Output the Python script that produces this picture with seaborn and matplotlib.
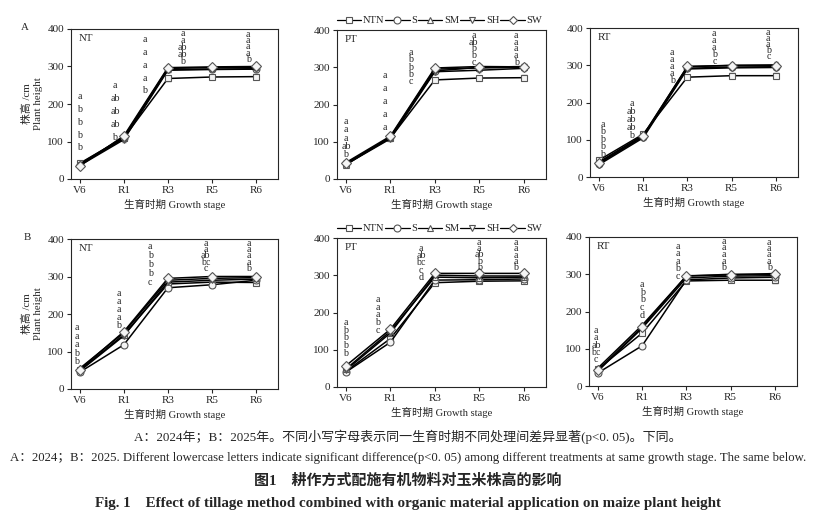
import matplotlib
matplotlib.use("Agg")
import matplotlib.pyplot as plt
from matplotlib.lines import Line2D
import seaborn as sns
import pandas as pd

# growth stages and treatments
stages = ["V6", "R1", "R3", "R5", "R6"]
treatments = ["NTN", "S", "SM", "SH", "SW"]

# plant height (cm), 2024 (A) and 2025 (B), per tillage method
a_nt = {"NTN": [42, 110, 268, 272, 273], "S": [38, 108, 292, 293, 294],
        "SM": [40, 112, 295, 297, 298], "SH": [36, 105, 290, 292, 293],
        "SW": [35, 115, 297, 299, 300]}
a_pt = {"NTN": [40, 110, 266, 271, 272], "S": [42, 112, 290, 300, 302],
        "SM": [38, 113, 295, 298, 300], "SH": [39, 108, 288, 292, 297],
        "SW": [44, 115, 298, 302, 301]}
a_rt = {"NTN": [45, 115, 268, 272, 272], "S": [36, 108, 292, 295, 296],
        "SM": [40, 112, 296, 300, 301], "SH": [33, 105, 290, 293, 294],
        "SW": [38, 110, 297, 299, 299]}
b_nt = {"NTN": [50, 145, 280, 285, 284], "S": [45, 118, 270, 278, 290],
        "SM": [55, 150, 290, 295, 297], "SH": [48, 142, 285, 290, 293],
        "SW": [52, 153, 295, 300, 300]}
b_pt = {"NTN": [42, 130, 280, 284, 285], "S": [40, 120, 287, 288, 290],
        "SM": [48, 150, 295, 293, 295], "SH": [45, 145, 300, 298, 298],
        "SW": [57, 155, 305, 305, 305]}
b_rt = {"NTN": [45, 142, 282, 284, 284], "S": [35, 108, 285, 290, 292],
        "SM": [48, 163, 295, 300, 300], "SH": [40, 155, 290, 295, 296],
        "SW": [42, 158, 296, 298, 302]}

# error bars (cm), rough
err = [4, 5, 6, 6, 7]

# significance letters, top to bottom, per stage
a_nt_letters = [list("abbbb"), ["a", "ab", "ab", "ab", "b"], list("aaaab"),
                ["a", "a", "ab", "ab", "b"], list("aaaab")]
a_pt_letters = [["a", "a", "a", "ab", "b"], list("aaaaa"), list("abbbc"),
                ["a", "ab", "b", "b", "c"], list("aaaab")]
a_rt_letters = [list("abbbb"), ["a", "ab", "ab", "ab", "b"], list("aaaab"),
                list("aaabc"), list("aaabc")]
b_nt_letters = [list("aaabb"), list("aaaab"), list("abbbc"),
                ["a", "a", "ab", "bc", "c"], list("aaaab")]
b_pt_letters = [list("abbbb"), list("aaabc"), ["a", "ab", "bc", "c", "d"],
                ["a", "a", "ab", "b", "b"], list("aaaab")]
b_rt_letters = [["a", "a", "ab", "bc", "c"], list("abbcd"), list("aaabc"),
                list("aaaab"), list("aaaab")]

# letter layout: top y, step, x shift (in stage units)
a_nt_lay = ([219, 248, 371, 388, 386], [34, 34, 34, 19, 17], [0, -0.2, -0.52, -0.66, -0.18])
a_pt_lay = ([154, 279, 339, 385, 386], [22, 35, 19.5, 18, 18.5], [0, -0.13, -0.54, -0.13, -0.17])
a_rt_lay = ([141, 196, 334, 386, 388], [20, 21, 18.5, 19, 16], [0.08, -0.26, -0.34, -0.39, -0.17])
b_nt_lay = ([164, 254, 379, 389, 389], [23, 21, 24, 17, 17], [-0.07, -0.11, -0.4, -0.14, -0.16])
b_pt_lay = ([174, 235, 371, 389, 387], [21, 20.5, 19, 17, 16.5], [0, -0.28, -0.31, 0, -0.18])
b_rt_lay = ([150, 273, 375, 388, 385], [20, 21, 20, 17.5, 16.5], [-0.04, 0, -0.2, -0.15, -0.13])

markers = {"NTN": "s", "S": "o", "SM": "^", "SH": "v", "SW": "D"}
msizes = {"NTN": 5, "S": 5, "SM": 5, "SH": 5, "SW": 4.2}

sns.set_style("ticks")
plt.rcParams["font.family"] = ["Liberation Serif", "Noto Sans CJK SC"]
plt.rcParams["axes.linewidth"] = 0.8

W, H = 816, 527
fig = plt.figure(figsize=(W / 100, H / 100), dpi=100)


def px_axes(left, top, right, bottom):
    return fig.add_axes([left / W, 1 - bottom / H, (right - left) / W, (bottom - top) / H])


def draw_panel(ax, data, letters, lay, name, ylab):
    df = pd.DataFrame([(t, i, v) for t in treatments for i, v in enumerate(data[t])],
                      columns=["treatment", "pos", "height"])
    for t in treatments:
        ax.errorbar(range(len(stages)), data[t], yerr=err, fmt="none",
                    ecolor="#777777", elinewidth=0.7, capsize=1.5, zorder=1)
    sns.lineplot(data=df, x="pos", y="height", style="treatment", style_order=treatments,
                 markers=markers, dashes=False, color="black", lw=1.1,
                 markersize=5, mfc="#f4f4f4", mec="#555555", mew=0.8,
                 legend=False, ax=ax, zorder=2)
    for line, t in zip(ax.lines, treatments):
        line.set_markersize(msizes[t])
    tops, steps, dxs = lay
    for i, lets in enumerate(letters):
        for k, s in enumerate(lets):
            ax.text(i + dxs[i], tops[i] - k * steps[i], s, ha="center", va="center",
                    fontsize=7.2, zorder=3)
    ax.set_xlim(-0.2, 4.5)
    ax.set_ylim(0, 400)
    ax.set_xticks(range(len(stages)))
    ax.set_xticklabels(stages)
    ax.set_yticks([0, 100, 200, 300, 400])
    ax.tick_params(labelsize=8, length=3, width=0.8, pad=2)
    ax.set_xlabel("生育时期 Growth stage", fontsize=7.6, labelpad=3)
    ax.text(0.035, 0.935, name, transform=ax.transAxes, fontsize=7.8, va="center")
    if ylab:
        ax.set_ylabel("株高 /cm\nPlant height", fontsize=7.8, linespacing=1.25)
        ax.yaxis.set_label_coords(-0.135, 0.5)
    else:
        ax.set_ylabel("")


boxes = [
    (71, 29, 278, 179), (337, 30, 546, 179), (590, 28, 798, 177),
    (71, 239, 278, 389), (337, 238, 546, 387), (589, 237, 797, 386),
]
panels = [
    (a_nt, a_nt_letters, a_nt_lay, "NT"), (a_pt, a_pt_letters, a_pt_lay, "PT"),
    (a_rt, a_rt_letters, a_rt_lay, "RT"), (b_nt, b_nt_letters, b_nt_lay, "NT"),
    (b_pt, b_pt_letters, b_pt_lay, "PT"), (b_rt, b_rt_letters, b_rt_lay, "RT"),
]

axes = []
for j, (box, (d, lets, lay, name)) in enumerate(zip(boxes, panels)):
    ax = px_axes(*box)
    draw_panel(ax, d, lets, lay, name, ylab=(j % 3 == 0))
    axes.append(ax)

# legends above the middle panels
handles = [Line2D([], [], color="black", lw=0.9, marker=markers[t], ms=msizes[t],
                  mfc="white", mec="#555555", mew=0.8) for t in treatments]
for ax in (axes[1], axes[4]):
    ax.legend(handles, treatments, loc="lower center", bbox_to_anchor=(0.49, 1.0),
              ncol=5, frameon=False, fontsize=7.6, handlelength=2.3,
              handletextpad=0.15, columnspacing=0.1, borderaxespad=0.25,
              borderpad=0.2)

fig.text(25 / W, 1 - 27 / H, "A", fontsize=7.8, ha="center", va="center")
fig.text(27 / W, 1 - 238 / H, "B", fontsize=7.8, ha="center", va="center")

# captions
fig.text(0.5, 1 - 437 / H,
         "A：2024年；B：2025年。不同小写字母表示同一生育时期不同处理间差异显著(p<0. 05)。下同。",
         fontsize=9.4, ha="center", va="center")
fig.text(0.5, 1 - 458 / H,
         "A：2024；B：2025. Different lowercase letters indicate significant difference(p<0. 05) "
         "among different treatments at same growth stage. The same below.",
         fontsize=9.2, ha="center", va="center")
fig.text(0.5, 1 - 481 / H, "图1　耕作方式配施有机物料对玉米株高的影响",
         fontsize=10.8, ha="center", va="center", fontweight="bold")
fig.text(0.5, 1 - 504 / H,
         "Fig. 1　Effect of tillage method combined with organic material application on maize plant height",
         fontsize=10.8, ha="center", va="center", fontweight="bold")

fig.savefig("out.png", dpi=100)
